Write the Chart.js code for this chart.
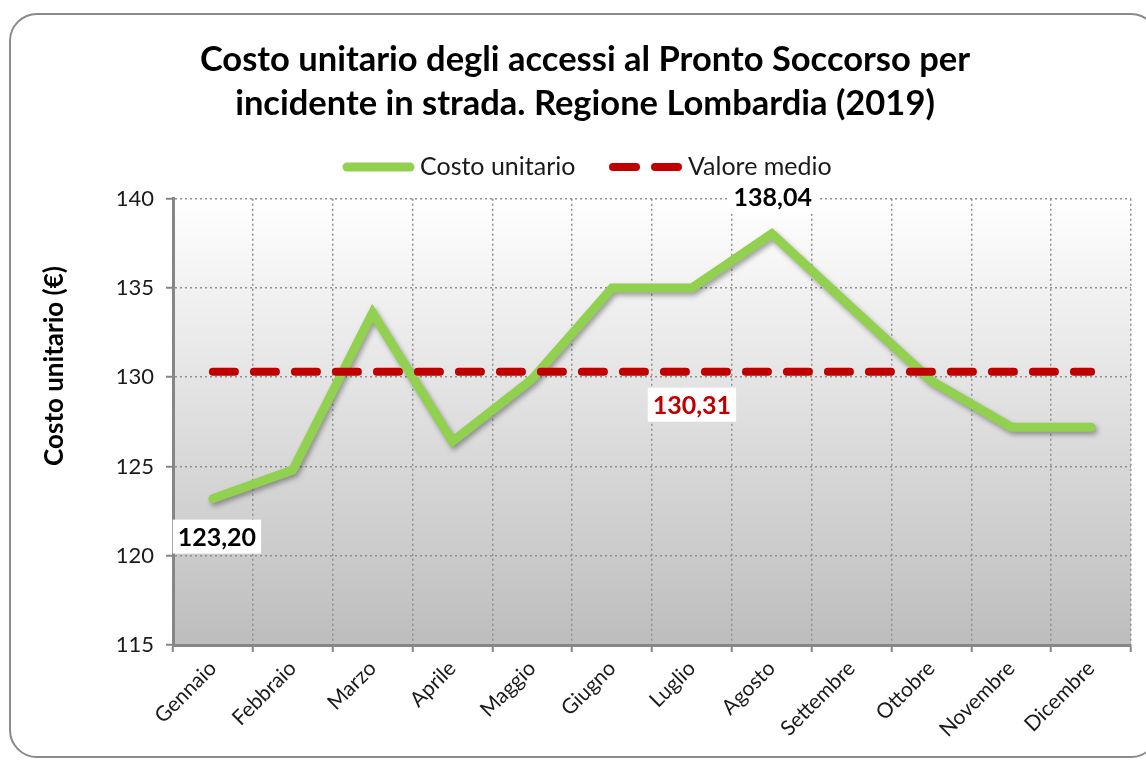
<!DOCTYPE html>
<html>
<head>
<meta charset="utf-8">
<script src="https://cdn.jsdelivr.net/npm/chart.js@4.4.1/dist/chart.umd.min.js"></script>
<style>
  html, body { margin: 0; padding: 0; background: #ffffff; overflow: hidden; }
  #frame { position: absolute; left: 9px; top: 13px; width: 1150px; height: 745px;
           border: 2px solid #8a8a8a; border-radius: 28px; box-sizing: border-box; }
  #wrap { position: absolute; left: 0; top: 0; width: 1146px; height: 763px; }
</style>
</head>
<body>
<div id="frame"></div>
<div id="wrap"><canvas id="c" width="1146" height="763"></canvas></div>
<script>
// ---- data ----
const months = ['Gennaio', 'Febbraio', 'Marzo', 'Aprile', 'Maggio', 'Giugno',
                'Luglio', 'Agosto', 'Settembre', 'Ottobre', 'Novembre', 'Dicembre'];
const costoUnitario = [123.20, 124.8, 133.6, 126.4, 129.9, 135.0, 135.0, 138.04, 133.9, 129.8, 127.2, 127.2];
const valoreMedio = [130.31, 130.31, 130.31, 130.31, 130.31, 130.31, 130.31, 130.31, 130.31, 130.31, 130.31, 130.31];
const yTicks = [115, 120, 125, 130, 135, 140];
const titleLines = ['Costo unitario degli accessi al Pronto Soccorso per', 'incidente in strada. Regione Lombardia (2019)'];
const yTitle = 'Costo unitario (€)';
const seriesNames = ['Costo unitario', 'Valore medio'];
const meanLabelIndex = 6;

const FONT = 'Lato, "Open Sans", sans-serif';
const GREEN = '#92D050';
const RED = '#C00000';
const fmt = v => v.toFixed(2).replace('.', ',');

const decor = {
  id: 'decor',
  beforeDraw(chart) {
    const { ctx, chartArea: a } = chart;
    const g = ctx.createLinearGradient(0, a.top, 0, a.bottom);
    g.addColorStop(0, '#ffffff');
    g.addColorStop(1, '#bdbdbd');
    ctx.save();
    ctx.fillStyle = g;
    ctx.fillRect(a.left, a.top, a.right - a.left, a.bottom - a.top);
    ctx.restore();
  },
  beforeDatasetDraw(chart, args) {
    const ctx = chart.ctx;
    ctx.save();
    if (args.index === 0) {
      ctx.shadowColor = 'rgba(0,0,0,0.35)';
      ctx.shadowBlur = 5;
      ctx.shadowOffsetX = 2;
      ctx.shadowOffsetY = 3;
    }
  },
  afterDatasetDraw(chart) {
    chart.ctx.restore();
  },
  afterDraw(chart) {
    const { ctx } = chart;
    ctx.save();
    // y axis title
    ctx.translate(55, 366);
    ctx.rotate(-Math.PI / 2);
    ctx.font = 'bold 26px ' + FONT;
    ctx.fillStyle = '#000';
    ctx.textAlign = 'center';
    ctx.textBaseline = 'middle';
    ctx.fillText(yTitle, 0, 0);
    ctx.restore();

    // legend
    ctx.save();
    const ly = 167;
    ctx.lineCap = 'round';
    ctx.strokeStyle = GREEN;
    ctx.lineWidth = 9;
    ctx.beginPath(); ctx.moveTo(347, ly); ctx.lineTo(410, ly); ctx.stroke();
    ctx.strokeStyle = RED;
    ctx.lineWidth = 8;
    ctx.beginPath(); ctx.moveTo(613, ly); ctx.lineTo(636, ly); ctx.stroke();
    ctx.beginPath(); ctx.moveTo(655, ly); ctx.lineTo(678, ly); ctx.stroke();
    ctx.font = '25px ' + FONT;
    ctx.fillStyle = '#1a1a1a';
    ctx.textBaseline = 'middle';
    ctx.textAlign = 'left';
    ctx.fillText(seriesNames[0], 420, ly);
    ctx.fillText(seriesNames[1], 688, ly);
    ctx.restore();

    // data labels
    const m0 = chart.getDatasetMeta(0).data;
    const m1 = chart.getDatasetMeta(1).data;
    let iMin = 0, iMax = 0;
    costoUnitario.forEach((v, i) => { if (v < costoUnitario[iMin]) iMin = i; if (v > costoUnitario[iMax]) iMax = i; });
    const label = (text, x, y, color) => {
      ctx.save();
      ctx.font = 'bold 25px ' + FONT;
      const w = ctx.measureText(text).width;
      ctx.fillStyle = '#ffffff';
      ctx.fillRect(x - w / 2 - 5, y - 17, w + 10, 34);
      ctx.fillStyle = color;
      ctx.textAlign = 'center';
      ctx.textBaseline = 'middle';
      ctx.fillText(text, x, y + 1);
      ctx.restore();
    };
    label(fmt(costoUnitario[iMin]), m0[iMin].x + 4, m0[iMin].y + 38, '#000');
    label(fmt(costoUnitario[iMax]), m0[iMax].x + 1, m0[iMax].y - 37, '#000');
    label(fmt(valoreMedio[meanLabelIndex]), m1[meanLabelIndex].x, m1[meanLabelIndex].y + 33, RED);
  }
};

new Chart(document.getElementById('c'), {
  type: 'line',
  data: {
    labels: months,
    datasets: [
      { label: seriesNames[0], data: costoUnitario, borderColor: GREEN, borderWidth: 9,
        pointRadius: 0, tension: 0, borderCapStyle: 'round', borderJoinStyle: 'miter', order: 1 },
      { label: seriesNames[1], data: valoreMedio, borderColor: RED, borderWidth: 8,
        pointRadius: 0, tension: 0, borderDash: [22, 19], borderCapStyle: 'round', order: 0 }
    ]
  },
  options: {
    responsive: false,
    animation: false,
    events: [],
    layout: { padding: { left: 39, right: 15, top: 0, bottom: 0 } },
    plugins: {
      legend: { display: false },
      tooltip: { enabled: false },
      title: {
        display: true,
        text: titleLines,
        color: '#000',
        font: { family: FONT, size: 34.5, weight: 'bold', lineHeight: 1.3 },
        padding: { top: 37, bottom: 72 }
      }
    },
    scales: {
      x: {
        offset: true,
        grid: { offset: true, color: '#8f8f8f', lineWidth: 1.5,
                tickLength: 7, tickColor: '#868686', tickBorderDash: [], tickWidth: 2, drawOnChartArea: true },
        border: { display: true, color: '#868686', width: 3, dash: [2, 3] },
        ticks: { color: '#1a1a1a', font: { family: FONT, size: 21 }, maxRotation: 45, minRotation: 45, padding: 4 },
        afterFit(s) { s.height = 118; }
      },
      y: {
        min: 115, max: 140,
        afterBuildTicks(s) { s.ticks = yTicks.map(v => ({ value: v })); },
        grid: { color: '#8f8f8f', lineWidth: 1.5,
                tickLength: 7, tickColor: '#868686', tickBorderDash: [], tickWidth: 2 },
        border: { display: true, color: '#868686', width: 3, dash: [2, 3] },
        ticks: { color: '#1a1a1a', font: { family: FONT, size: 22 }, padding: 12 },
        afterFit(s) { s.width = 134; }
      }
    }
  },
  plugins: [decor]
});
</script>
</body>
</html>
